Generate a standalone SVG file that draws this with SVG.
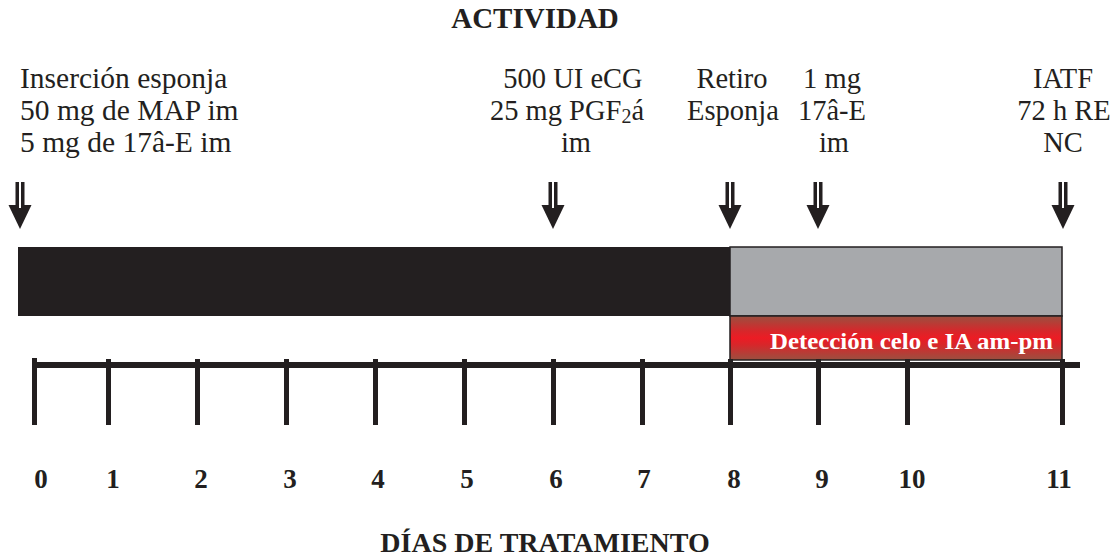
<svg xmlns="http://www.w3.org/2000/svg" width="1120" height="560" viewBox="0 0 1120 560">
<style>
  .t { font-family: "Liberation Serif", "Times New Roman", serif; fill: #231f20; }
  .lbl { font-size: 28.5px; }
  .lblL { font-size: 29.5px; }
  .b { font-weight: bold; }
  .day { font-size: 27px; font-weight: bold; text-anchor: middle; }
  .c { text-anchor: middle; }
  .tick { fill: #231f20; }
</style>
<defs>
  <linearGradient id="redg" x1="0" y1="0" x2="0" y2="1">
    <stop offset="0" stop-color="#9a5040"/>
    <stop offset="0.35" stop-color="#d8262a"/>
    <stop offset="0.5" stop-color="#ec1c24"/>
    <stop offset="0.65" stop-color="#d8262a"/>
    <stop offset="1" stop-color="#9a5040"/>
  </linearGradient>
  <g id="arrow">
    <rect x="-4.5" y="182" width="9" height="26" fill="#231f20"/>
    <rect x="-1" y="182" width="2" height="27" fill="#ffffff"/>
    <polygon points="-11.5,205 11.5,205 0,229" fill="#231f20"/>
    <rect x="-1" y="205" width="2" height="3" fill="#ffffff"/>
  </g>
</defs>

<text class="t b c" x="535" y="28" font-size="29">ACTIVIDAD</text>

<g id="label-0">
  <text class="t lblL" x="20" y="88">Inserción esponja</text>
  <text class="t lblL" x="20" y="120">50 mg de MAP im</text>
  <text class="t lblL" x="20" y="152">5 mg de 17â-E im</text>
</g>
<g id="label-6">
  <text class="t lbl c" x="573" y="88">500 UI eCG</text>
  <text class="t lbl c" x="567" y="120">25 mg PGF<tspan font-size="20" dy="3">2</tspan><tspan dy="-3">á</tspan></text>
  <text class="t lbl c" x="576" y="152">im</text>
</g>
<g id="label-8">
  <text class="t lbl c" x="732" y="88">Retiro</text>
  <text class="t lbl c" x="733" y="120">Esponja</text>
</g>
<g id="label-9">
  <text class="t lbl c" x="832" y="88">1 mg</text>
  <text class="t lbl c" x="832" y="120">17â-E</text>
  <text class="t lbl c" x="834" y="152">im</text>
</g>
<g id="label-11">
  <text class="t lbl c" x="1063" y="88">IATF</text>
  <text class="t lbl c" x="1064" y="120">72 h RE</text>
  <text class="t lbl c" x="1063" y="152">NC</text>
</g>

<g id="connectors">
  <use href="#arrow" transform="translate(20,0)"/>
  <use href="#arrow" transform="translate(553,0)"/>
  <use href="#arrow" transform="translate(730,0)"/>
  <use href="#arrow" transform="translate(818,0)"/>
  <use href="#arrow" transform="translate(1063,0)"/>
</g>

<g id="bar-progestagen">
  <rect x="18" y="247" width="712" height="69" fill="#231f20"/>
</g>
<g id="bar-post">
  <rect x="730" y="247" width="332" height="69" fill="#a7a9ac" stroke="#231f20" stroke-width="1.5"/>
</g>
<g id="bar-detection">
  <rect x="730" y="316" width="332" height="44" fill="url(#redg)" stroke="#231f20" stroke-width="1.5"/>
  <text class="b" x="770" y="349" font-family="Liberation Serif, serif" font-size="24" fill="#ffffff" textLength="283" lengthAdjust="spacingAndGlyphs">Detección celo e IA am-pm</text>
</g>

<g id="axis">
  <rect class="tick" x="33" y="362" width="1047" height="6"/>
  <rect class="tick" x="32" y="358" width="5" height="67"/>
  <rect class="tick" x="106" y="359" width="5" height="66"/>
  <rect class="tick" x="195" y="359" width="5" height="66"/>
  <rect class="tick" x="284" y="359" width="5" height="66"/>
  <rect class="tick" x="373" y="359" width="5" height="66"/>
  <rect class="tick" x="462" y="359" width="5" height="66"/>
  <rect class="tick" x="551" y="359" width="5" height="66"/>
  <rect class="tick" x="640" y="359" width="5" height="66"/>
  <rect class="tick" x="728" y="359" width="5" height="66"/>
  <rect class="tick" x="816" y="359" width="5" height="66"/>
  <rect class="tick" x="905" y="359" width="5" height="66"/>
  <rect class="tick" x="1060" y="359" width="5" height="66"/>
</g>

<g id="day-labels">
  <text class="t day" x="41" y="488">0</text>
  <text class="t day" x="113" y="488">1</text>
  <text class="t day" x="201" y="488">2</text>
  <text class="t day" x="290" y="488">3</text>
  <text class="t day" x="378" y="488">4</text>
  <text class="t day" x="467" y="488">5</text>
  <text class="t day" x="556" y="488">6</text>
  <text class="t day" x="644" y="488">7</text>
  <text class="t day" x="734" y="488">8</text>
  <text class="t day" x="822" y="488">9</text>
  <text class="t day" x="912" y="488">10</text>
  <text class="t day" x="1059" y="488">11</text>
</g>

<text class="t b c" x="545" y="552" font-size="28">DÍAS DE TRATAMIENTO</text>
</svg>
